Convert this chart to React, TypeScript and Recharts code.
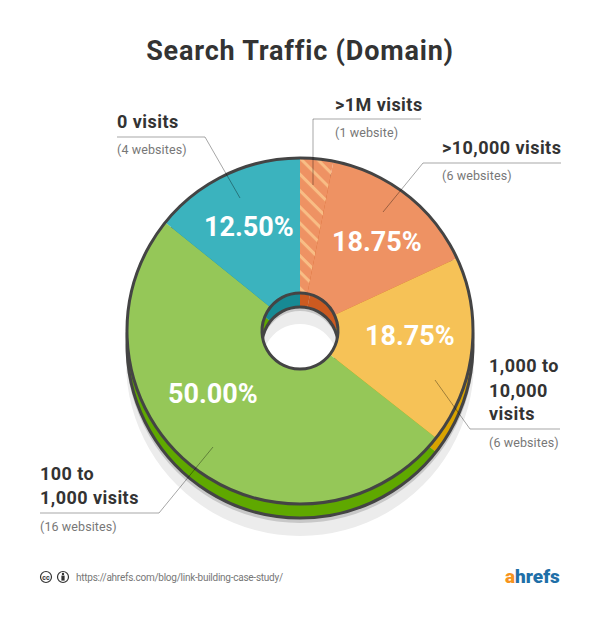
import { PieChart, Pie, Cell } from "recharts";

// share of the circle each slice takes up
const SLICE_NAMES = [">1M visits", ">10,000 visits", "1,000 to 10,000 visits", "100 to 1,000 visits", "0 visits"];
const SLICE_SHARES = [3.1, 15, 17.5, 50.2, 14.2];
const TOP_COLORS = ["url(#hatch)", "#ee9263", "#f6c257", "#95c758", "#3bb3be"];
const SIDE_COLORS = ["#cc5a20", "#cc5a20", "#d9a300", "#5fa800", "#178a94"];

const PERCENT_LABELS = ["12.50%", "18.75%", "18.75%", "50.00%"];
const WEBSITE_LABELS = ["(1 website)", "(6 websites)", "(4 websites)", "(6 websites)", "(16 websites)"];

const slices = SLICE_NAMES.map((name, i) => ({ name, value: SLICE_SHARES[i] }));
const whole = [{ name: "whole", value: 100 }];

const FONT = "Roboto, sans-serif";
const OUTLINE = "#444444";
const LEADER = "rgba(0,0,0,0.35)";

const Heading = ({ x, y, children }: { x: number; y: number; children: string }) => (
  <text x={x} y={y} fontFamily={FONT} fontWeight={700} fontSize={18} letterSpacing={0.45} fill="#333333">
    {children}
  </text>
);

const Note = ({ x, y, children }: { x: number; y: number; children: string }) => (
  <text x={x} y={y} fontFamily={FONT} fontSize={12.5} letterSpacing={0.1} fill="#777777">
    {children}
  </text>
);

const Percent = ({ x, y, children }: { x: number; y: number; children: string }) => (
  <text x={x} y={y} fontFamily={FONT} fontWeight={700} fontSize={27} fill="#ffffff">
    {children}
  </text>
);

const Leader = ({ points }: { points: string }) => (
  <polyline points={points} fill="none" stroke={LEADER} strokeWidth={1} />
);

const App = () => {
  const shared = { startAngle: 90, endAngle: -270, cx: 300, dataKey: "value", isAnimationActive: false, stroke: "none" };

  return (
    <div style={{ position: "absolute", left: 0, top: 0, width: 600, height: 624, background: "#fff" }}>
      <PieChart width={600} height={624} margin={{ top: 0, right: 0, bottom: 0, left: 0 }}>
        <defs>
          <pattern id="hatch" width={11.5} height={11.5} patternUnits="userSpaceOnUse" patternTransform="rotate(45 300 330)">
            <rect width={11.5} height={11.5} fill="#ee9263" />
            <rect width={11.5} height={3} fill="#f8bd85" />
          </pattern>
        </defs>

        <Pie {...shared} data={whole} cy={362} innerRadius={38} outerRadius={174} fill="#ececec" />
        <Pie {...shared} data={whole} cy={349} innerRadius={38} outerRadius={174} fill="#c8c8c8" />

        <Pie {...shared} data={slices} cy={345} innerRadius={38} outerRadius={173}>
          {slices.map((s, i) => (
            <Cell key={s.name} fill={SIDE_COLORS[i]} />
          ))}
        </Pie>
        <Pie {...shared} data={whole} cy={345} innerRadius={173} outerRadius={173} fill="none" stroke={OUTLINE} strokeWidth={3} />
        <Pie {...shared} data={whole} cy={345} innerRadius={38} outerRadius={38} fill="none" stroke={OUTLINE} strokeWidth={3} />

        <Pie {...shared} data={slices} cy={331} innerRadius={38} outerRadius={173}>
          {slices.map((s, i) => (
            <Cell key={s.name} fill={TOP_COLORS[i]} />
          ))}
        </Pie>
        <Pie {...shared} data={whole} cy={331} innerRadius={173} outerRadius={173} fill="none" stroke={OUTLINE} strokeWidth={3} />
        <Pie {...shared} data={whole} cy={331} innerRadius={38} outerRadius={38} fill="none" stroke={OUTLINE} strokeWidth={3} />
      </PieChart>

      {/* the pies paint over anything placed inside the chart, so the text sits on its own layer */}
      <svg width={600} height={624} style={{ position: "absolute", left: 0, top: 0 }}>
        <text x={300} y={60} textAnchor="middle" fontFamily={FONT} fontWeight={700} fontSize={27} letterSpacing={0.8} fill="#333333">
          Search Traffic (Domain)
        </text>

        <Leader points="421,119 313,119 313,185" />
        <Leader points="561,163 423,163 383,212" />
        <Leader points="117,137 205,137 240,198" />
        <Leader points="560,429 470,429 435,380" />
        <Leader points="40,513 159,513 213,447" />

        <Heading x={335} y={111}>{">1M visits"}</Heading>
        <Note x={335} y={137}>{WEBSITE_LABELS[0]}</Note>
        <Heading x={442} y={154}>{">10,000 visits"}</Heading>
        <Note x={442} y={180}>{WEBSITE_LABELS[1]}</Note>
        <Heading x={117} y={128}>{"0 visits"}</Heading>
        <Note x={117} y={154}>{WEBSITE_LABELS[2]}</Note>
        <Heading x={489} y={372}>{"1,000 to"}</Heading>
        <Heading x={489} y={397}>{"10,000"}</Heading>
        <Heading x={489} y={420}>{"visits"}</Heading>
        <Note x={489} y={447}>{WEBSITE_LABELS[3]}</Note>
        <Heading x={40} y={480}>{"100 to"}</Heading>
        <Heading x={40} y={504}>{"1,000 visits"}</Heading>
        <Note x={40} y={531}>{WEBSITE_LABELS[4]}</Note>

        <Percent x={204} y={236}>{PERCENT_LABELS[0]}</Percent>
        <Percent x={332} y={251}>{PERCENT_LABELS[1]}</Percent>
        <Percent x={365} y={345}>{PERCENT_LABELS[2]}</Percent>
        <Percent x={168} y={403}>{PERCENT_LABELS[3]}</Percent>

        <circle cx={46} cy={577} r={5.5} fill="none" stroke="#333" strokeWidth={1.2} />
        <text x={46} y={579.5} textAnchor="middle" fontFamily={FONT} fontWeight={700} fontSize={7} fill="#333">cc</text>
        <circle cx={63} cy={577} r={5.5} fill="none" stroke="#333" strokeWidth={1.2} />
        <circle cx={63} cy={574} r={1.2} fill="#333" />
        <rect x={61.4} y={575.6} width={3.2} height={5} fill="#333" />
        <text x={76} y={581} fontFamily={FONT} fontSize={10} letterSpacing={-0.25} fill="#777777">
          https://ahrefs.com/blog/link-building-case-study/
        </text>
        <text x={505} y={583} fontFamily={FONT} fontWeight={900} fontSize={19}>
          <tspan fill="#f7941d">a</tspan>
          <tspan fill="#1f6fa8">hrefs</tspan>
        </text>
      </svg>
    </div>
  );
};

export default App;
